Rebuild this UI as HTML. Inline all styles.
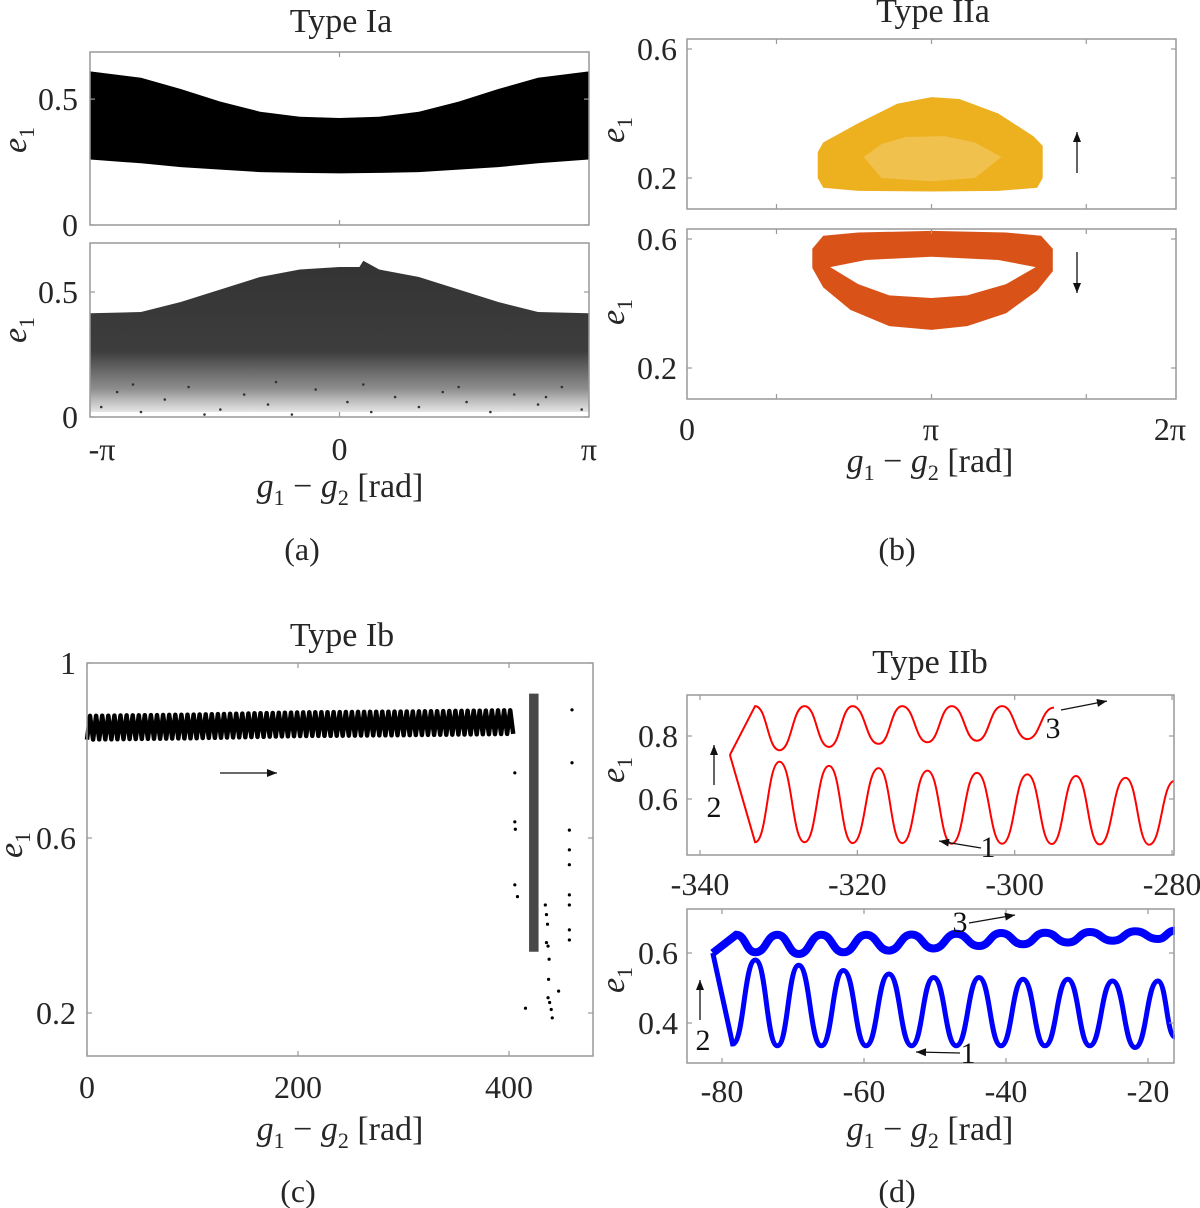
<!DOCTYPE html>
<html><head><meta charset="utf-8"><style>
html,body{margin:0;padding:0;background:#fff;}
svg{display:block;font-family:"Liberation Serif",serif;}
</style></head><body>
<svg id="fig" width="1200" height="1208" viewBox="0 0 1200 1208" xmlns="http://www.w3.org/2000/svg"></svg>
<script>
// ---------- data ----------
const aTopX = [-3.14,-2.5,-2,-1.5,-1,-0.5,0,0.5,1,1.5,2,2.5,3.14];
const aTopUpper = [0.61,0.585,0.54,0.49,0.45,0.43,0.425,0.43,0.45,0.49,0.54,0.585,0.61];
const aTopLower = [0.26,0.245,0.23,0.22,0.21,0.207,0.205,0.207,0.21,0.22,0.23,0.245,0.26];
const aBotX = [-3.14,-2.5,-2,-1.5,-1,-0.5,0,0.25,0.3,0.5,1,1.5,2,2.5,3.14];
const aBotUpper = [0.415,0.42,0.46,0.51,0.56,0.59,0.6,0.6,0.625,0.59,0.56,0.51,0.46,0.42,0.415];
const aBotSparseX = [-3.0,-2.8,-2.5,-2.2,-1.9,-1.5,-1.2,-0.9,-0.6,-0.3,0.1,0.4,0.7,1.0,1.3,1.6,1.9,2.2,2.5,2.8,3.05,-2.6,-1.7,-0.8,0.3,1.5,2.6];
const aBotSparseY = [0.04,0.1,0.02,0.07,0.12,0.03,0.09,0.05,0.01,0.11,0.06,0.02,0.08,0.04,0.1,0.06,0.02,0.09,0.05,0.12,0.03,0.13,0.01,0.14,0.13,0.12,0.08];
const bYelX = [1.68,1.75,2.2,2.7,3.14,3.5,4.0,4.45,4.57,4.57,4.5,4.0,3.14,2.2,1.75,1.68];
const bYelY = [0.28,0.31,0.37,0.43,0.451,0.445,0.40,0.33,0.30,0.2,0.17,0.16,0.158,0.16,0.17,0.2];
const bYelInX = [2.27,2.5,2.81,3.31,3.7,4.04,3.7,3.14,2.5];
const bYelInY = [0.265,0.305,0.327,0.33,0.31,0.265,0.2,0.19,0.2];
const bRedX = [1.61,1.75,2.2,3.14,4.1,4.55,4.70,4.70,4.5,4.1,3.6,3.14,2.6,2.1,1.75,1.61];
const bRedY = [0.57,0.61,0.62,0.625,0.62,0.61,0.57,0.5,0.44,0.37,0.33,0.318,0.33,0.38,0.45,0.51];
const bHoleX = [1.84,2.3,3.14,4.0,4.48,4.1,3.6,3.14,2.6,2.2];
const bHoleY = [0.513,0.535,0.545,0.535,0.513,0.46,0.425,0.417,0.425,0.46];
const cBandX = [0,100,200,300,404];
const cBandMid = [0.852,0.855,0.86,0.862,0.865];
const cBandAmp = 0.027;
const cWiggles = 70;
const cClusterX = [419,428];
const cClusterY = [0.34,0.93];
const cDotsX = [405.5,405.5,406,405.5,408,415.6,434.4,435.5,436.5,435.5,437,438,437.5,437,438.5,440,441,447,459.7,459.7,457.2,457.2,457.2,457.2,457.2,457.2,457.2];
const cDotsY = [0.749,0.637,0.62,0.493,0.466,0.211,0.447,0.425,0.403,0.361,0.353,0.323,0.277,0.235,0.224,0.208,0.189,0.25,0.893,0.772,0.618,0.573,0.539,0.47,0.447,0.39,0.367];
const dRedLowX = [-336.2,-333.0,-329.9,-326.7,-323.6,-320.6,-317.3,-314.3,-311.1,-308.0,-304.8,-301.6,-298.4,-295.3,-292.2,-289.2,-285.9,-282.9,-279.7];
const dRedLowY = [0.74,0.463,0.718,0.463,0.705,0.46,0.698,0.46,0.69,0.458,0.683,0.458,0.678,0.457,0.673,0.456,0.667,0.455,0.657];
const dRedUpX = [-336.2,-333.0,-329.9,-326.7,-323.6,-320.6,-317.3,-314.3,-311.1,-308.0,-304.8,-301.6,-298.4,-295.0];
const dRedUpY = [0.74,0.895,0.755,0.895,0.765,0.895,0.775,0.895,0.78,0.895,0.785,0.895,0.79,0.89];
const dBlueLowX = [-81.3,-78.5,-75.3,-72.2,-69.2,-66.0,-62.9,-59.7,-56.5,-53.3,-50.2,-47.0,-43.8,-40.7,-37.6,-34.5,-31.3,-28.2,-25.0,-21.8,-18.6,-16.2];
const dBlueLowY = [0.6,0.34,0.58,0.335,0.565,0.335,0.55,0.335,0.54,0.335,0.53,0.335,0.53,0.335,0.525,0.335,0.525,0.335,0.52,0.33,0.52,0.36];
const dBlueUpX = [-81.3,-78.0,-75.3,-72.2,-69.2,-66.0,-62.9,-59.7,-56.5,-53.3,-50.2,-47.0,-43.8,-40.7,-37.6,-34.5,-31.3,-28.2,-25.0,-21.8,-18.6,-16.2];
const dBlueUpY = [0.6,0.652,0.602,0.652,0.597,0.652,0.602,0.652,0.607,0.653,0.613,0.655,0.62,0.657,0.625,0.658,0.63,0.66,0.635,0.662,0.64,0.664];

// ---------- helpers ----------
const NS = "http://www.w3.org/2000/svg";
const svg = document.getElementById('fig');
function mk(tag, attrs, parent){
  const e = document.createElementNS(NS, tag);
  for (const k in attrs) e.setAttribute(k, attrs[k]);
  (parent||svg).appendChild(e);
  return e;
}
function axis(x0,x1,xmin,xmax,yTop,yBot,eAtTop,eAtBot){
  return {x0,x1,yTop,yBot,
    sx:v=>x0+(v-xmin)/(xmax-xmin)*(x1-x0),
    sy:v=>yBot-(v-eAtBot)/(eAtTop-eAtBot)*(yBot-yTop)};
}
function box(ax, name, xt, yt){
  const g = mk('g',{});
  
  
  mk('rect',{x:ax.x0,y:ax.yTop,width:ax.x1-ax.x0,height:ax.yBot-ax.yTop,fill:'none',stroke:'#999','stroke-width':1.5},g);
  (xt||[]).forEach(v=>{const x=ax.sx(v);
    mk('line',{x1:x,x2:x,y1:ax.yBot,y2:ax.yBot-5,stroke:'#999','stroke-width':1.2},g);
    mk('line',{x1:x,x2:x,y1:ax.yTop,y2:ax.yTop+5,stroke:'#999','stroke-width':1.2},g);});
  (yt||[]).forEach(v=>{const y=ax.sy(v);
    mk('line',{x1:ax.x0,x2:ax.x0+5,y1:y,y2:y,stroke:'#999','stroke-width':1.2},g);
    mk('line',{x1:ax.x1,x2:ax.x1-5,y1:y,y2:y,stroke:'#999','stroke-width':1.2},g);});
  return g;
}
function txt(x,y,s,size,name,anchor,color){
  const t = mk('text',{x:x,y:y,'font-size':size,'text-anchor':anchor||'middle',fill:color||'#262626'});
  t.textContent = s;
  
  
  return t;
}
function ylab(x,y,name){
  const t = mk('text',{x:0,y:0,'font-size':34,'text-anchor':'middle',fill:'#262626',transform:`translate(${x},${y}) rotate(-90)`});
  
  
  const a = mk('tspan',{'font-style':'italic'},t); a.textContent='e';
  const b = mk('tspan',{'font-size':22,dy:8},t); b.textContent='1';
}
function xlab(x,y,name){
  const t = mk('text',{x:x,y:y,'font-size':34,'text-anchor':'middle',fill:'#262626'});
  
  
  const parts=[['g','italic',0,34],['1','normal',8,22],[' − ','normal',-8,34],['g','italic',0,34],['2','normal',8,22],[' [rad]','normal',-8,34]];
  parts.forEach(p=>{const s=mk('tspan',{'font-style':p[1],dy:p[2],'font-size':p[3]},t);s.textContent=p[0];});
}
function poly(ax,xs,ys){return xs.map((v,i)=>ax.sx(v).toFixed(1)+','+ax.sy(ys[i]).toFixed(1)).join(' ');}
function smoothPath(ax,xs,ys){
  let d='M'+ax.sx(xs[0]).toFixed(1)+','+ax.sy(ys[0]).toFixed(1);
  for(let i=1;i<xs.length;i++){
    const xa=ax.sx(xs[i-1]),ya=ax.sy(ys[i-1]),xb=ax.sx(xs[i]),yb=ax.sy(ys[i]);
    const m=(xb-xa)/2;
    if(i===1) d+=` L${xb.toFixed(1)},${yb.toFixed(1)}`;
    else d+=` C${(xa+m).toFixed(1)},${ya.toFixed(1)} ${(xb-m).toFixed(1)},${yb.toFixed(1)} ${xb.toFixed(1)},${yb.toFixed(1)}`;
  }
  return d;
}
function arrow(x1,y1,x2,y2,name){
  const g=mk('g',{});
  
  
  mk('line',{x1,y1,x2,y2,stroke:'#111','stroke-width':1.3},g);
  const a=Math.atan2(y2-y1,x2-x1),L=10,W=4;
  const p=[[x2,y2],[x2-L*Math.cos(a)+W*Math.sin(a),y2-L*Math.sin(a)-W*Math.cos(a)],[x2-L*Math.cos(a)-W*Math.sin(a),y2-L*Math.sin(a)+W*Math.cos(a)]];
  mk('polygon',{points:p.map(q=>q.join(',')).join(' '),fill:'#111'},g);
}
const PI=Math.PI;
const defs=mk('defs',{});
const lg=mk('linearGradient',{id:'fadeA',x1:0,y1:0,x2:0,y2:1},defs);
mk('stop',{offset:'0','stop-color':'#333','stop-opacity':1},lg);
mk('stop',{offset:'0.6','stop-color':'#333','stop-opacity':0.95},lg);
mk('stop',{offset:'0.85','stop-color':'#444','stop-opacity':0.6},lg);
mk('stop',{offset:'1','stop-color':'#555','stop-opacity':0.15},lg);

// ---------- Panel (a) ----------
const aT = axis(90,589,-PI,PI,52,225,0.687,0);
const aB = axis(90,589,-PI,PI,243,417,0.696,0);
txt(341,32,'Type Ia',34,'title-type-ia');
{const pts=poly(aT,aTopX,aTopUpper)+' '+poly(aT,aTopX.slice().reverse(),aTopLower.slice().reverse());
 const p=mk('polygon',{points:pts,fill:'#000'});
 
 }
{const pts=poly(aB,aBotX,aBotUpper)+` ${aB.x1},${aB.sy(0.02)} ${aB.x0},${aB.sy(0.02)}`;
 const p=mk('polygon',{points:pts,fill:'url(#fadeA)'});
 
 
 aBotSparseX.forEach((v,i)=>{const c=mk('circle',{cx:aB.sx(v),cy:aB.sy(aBotSparseY[i]),r:1.3,fill:'#333'});
   
   });}
box(aT,'axes-type-ia-top',[0],[0,0.5]);
box(aB,'axes-type-ia-bottom',[0],[0,0.5]);
txt(78,aT.sy(0.5)+11,'0.5',32,'ytick-a-top-0.5','end');
txt(78,aT.sy(0)+11,'0',32,'ytick-a-top-0','end');
txt(78,aB.sy(0.5)+11,'0.5',32,'ytick-a-bottom-0.5','end');
txt(78,aB.sy(0)+11,'0',32,'ytick-a-bottom-0','end');
txt(aB.sx(-PI)+12,460,'-π',32,'xtick-a-minus-pi');
txt(aB.sx(0),460,'0',32,'xtick-a-0');
txt(aB.sx(PI),460,'π',32,'xtick-a-pi');
ylab(26,140,'ylabel-a-top'); ylab(26,330,'ylabel-a-bottom');
xlab(340,497,'xlabel-a');
txt(302,560,'(a)',32,'panel-label-a');

// ---------- Panel (b) ----------
const bT = axis(687,1176,0,2*PI,39,209,0.6+10/322.5,0.2-31/322.5);
const bB = axis(687,1176,0,2*PI,229,399,0.6+10/322.5,0.2-31/322.5);
txt(933,22,'Type IIa',34,'title-type-iia');
{const p=mk('polygon',{points:poly(bT,bYelX,bYelY),fill:'#EDB120'});
 
 
 const q=mk('polygon',{points:poly(bT,bYelInX,bYelInY),fill:'#F1C14E'});
 
 }
{const d='M'+poly(bB,bRedX,bRedY).replace(/ /g,' L')+' Z M'+poly(bB,bHoleX,bHoleY).replace(/ /g,' L')+' Z';
 const p=mk('path',{d:d,fill:'#D95319','fill-rule':'evenodd'});
 
 }
box(bT,'axes-type-iia-top',[1.15,PI,5.13],[0.2,0.6]);
box(bB,'axes-type-iia-bottom',[1.15,PI,5.13],[0.2,0.6]);
[[bT,0.6],[bT,0.2],[bB,0.6],[bB,0.2]].forEach((q,i)=>txt(677,q[0].sy(q[1])+11,q[1].toFixed(1),32,'ytick-b-'+i,'end'));
txt(687,440,'0',32,'xtick-b-0');
txt(931,440,'π',32,'xtick-b-pi');
txt(1170,440,'2π',32,'xtick-b-2pi');
ylab(624,130,'ylabel-b-top'); ylab(624,312,'ylabel-b-bottom');
arrow(1077,173,1077,132,'arrow-up-b');
arrow(1077,252,1077,293,'arrow-down-b');
xlab(930,472,'xlabel-b');
txt(897,560,'(b)',32,'panel-label-b');

// ---------- Panel (c) ----------
const cA = axis(87,593,0,479.6,663,1056,1,1-393/437.5);
txt(342,646,'Type Ib',34,'title-type-ib');
{let d='';
 const xEnd=cBandX[cBandX.length-1];
 const mid=v=>{for(let i=1;i<cBandX.length;i++){if(v<=cBandX[i]){const t=(v-cBandX[i-1])/(cBandX[i]-cBandX[i-1]);return cBandMid[i-1]+t*(cBandMid[i]-cBandMid[i-1]);}}return cBandMid[cBandMid.length-1];};
 const n=cWiggles*2;
 for(let k=0;k<=n;k++){const v=xEnd*k/n;const e=mid(v)+(k%2?cBandAmp:-cBandAmp);
   d+=(k?' L':'M')+cA.sx(v).toFixed(1)+','+cA.sy(e).toFixed(1);}
 const p=mk('path',{d:d,fill:'none',stroke:'#000','stroke-width':4.5,'stroke-linejoin':'round'});
 
 
 const r=mk('rect',{x:cA.sx(cClusterX[0]),y:cA.sy(cClusterY[1]),width:cA.sx(cClusterX[1])-cA.sx(cClusterX[0]),height:cA.sy(cClusterY[0])-cA.sy(cClusterY[1]),fill:'#1a1a1a',opacity:0.8});
 
 
 cDotsX.forEach((v,i)=>{const c=mk('circle',{cx:cA.sx(v),cy:cA.sy(cDotsY[i]),r:1.6,fill:'#000'});
   
   });}
box(cA,'axes-type-ib',[0,200,400],[0.2,0.6,1]);
txt(76,cA.sy(1)+11,'1',32,'ytick-c-1','end');
txt(76,cA.sy(0.6)+11,'0.6',32,'ytick-c-0.6','end');
txt(76,cA.sy(0.2)+11,'0.2',32,'ytick-c-0.2','end');
txt(cA.sx(0),1098,'0',32,'xtick-c-0');
txt(cA.sx(200),1098,'200',32,'xtick-c-200');
txt(cA.sx(400),1098,'400',32,'xtick-c-400');
ylab(22,845,'ylabel-c');
arrow(220,773,277,773,'arrow-right-c');
xlab(340,1140,'xlabel-c');
txt(298,1202,'(c)',32,'panel-label-c');

// ---------- Panel (d) ----------
const dT = axis(687,1174,-340-13/7.867,-340+474/7.867,695,855,0.8+41/315,0.6-56/315);
const dB = axis(687,1174,-80-35/7.1,-80+452/7.1,909,1063,0.6+44/350,0.4-40/350);
txt(930,673,'Type IIb',34,'title-type-iib');
{const p1=mk('path',{d:smoothPath(dT,dRedLowX,dRedLowY),fill:'none',stroke:'#FF0000','stroke-width':2});
 
 
 const p2=mk('path',{d:smoothPath(dT,dRedUpX,dRedUpY),fill:'none',stroke:'#FF0000','stroke-width':2});
 
 
 const p3=mk('path',{d:smoothPath(dB,dBlueLowX,dBlueLowY),fill:'none',stroke:'#0000FF','stroke-width':5});
 
 
 const p4=mk('path',{d:smoothPath(dB,dBlueUpX,dBlueUpY),fill:'none',stroke:'#0000FF','stroke-width':8});
 
 }
box(dT,'axes-type-iib-top',[-340,-320,-300,-280],[0.6,0.8]);
box(dB,'axes-type-iib-bottom',[-80,-60,-40,-20],[0.4,0.6]);
txt(678,dT.sy(0.8)+11,'0.8',32,'ytick-d-top-0.8','end');
txt(678,dT.sy(0.6)+11,'0.6',32,'ytick-d-top-0.6','end');
txt(678,dB.sy(0.6)+11,'0.6',32,'ytick-d-bottom-0.6','end');
txt(678,dB.sy(0.4)+11,'0.4',32,'ytick-d-bottom-0.4','end');
[-340,-320,-300,-280].forEach(v=>txt(dT.sx(v),895,String(v),32,'xtick-d-top-'+(-v)));
[-80,-60,-40,-20].forEach(v=>txt(dB.sx(v),1102,String(v),32,'xtick-d-bottom-'+(-v)));
ylab(624,770,'ylabel-d-top'); ylab(624,980,'ylabel-d-bottom');
txt(1053,738,'3',30,'annot-3-top','middle','#111');
arrow(1061,710,1107,701,'arrow-3-top');
txt(714,817,'2',30,'annot-2-top','middle','#111');
arrow(714,785,714,745,'arrow-2-top');
txt(988,857,'1',30,'annot-1-top','middle','#111');
arrow(981,848,939,841,'arrow-1-top');
txt(960,932,'3',30,'annot-3-bottom','middle','#111');
arrow(969,923,1015,915,'arrow-3-bottom');
txt(703,1050,'2',30,'annot-2-bottom','middle','#111');
arrow(700,1020,700,980,'arrow-2-bottom');
txt(968,1063,'1',30,'annot-1-bottom','middle','#111');
arrow(960,1053,916,1052,'arrow-1-bottom');
xlab(930,1140,'xlabel-d');
txt(897,1202,'(d)',32,'panel-label-d');
</script>
</body></html>
